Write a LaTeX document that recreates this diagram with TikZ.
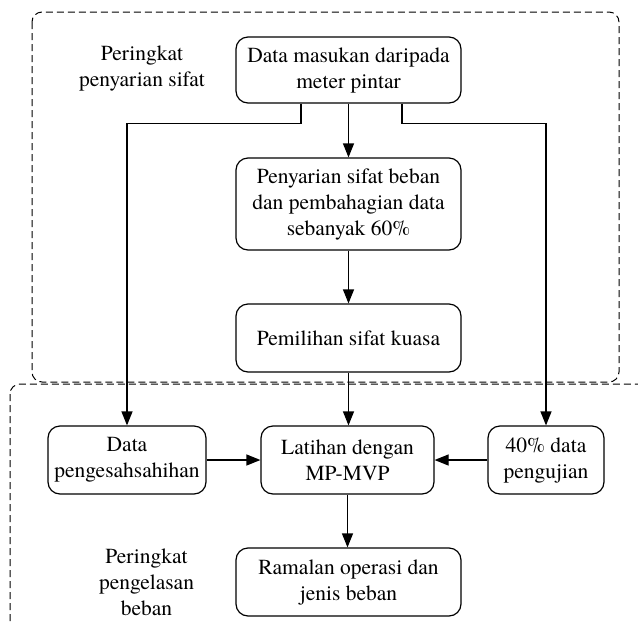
\documentclass[tikz,border=0pt]{standalone}
\usepackage{fontspec}
\setmainfont{texgyretermes}[Extension=.otf,UprightFont=*-regular,BoldFont=*-bold,ItalicFont=*-italic]
\usetikzlibrary{arrows.meta,calc}
\begin{document}
\begin{tikzpicture}[x=1pt,y=-1pt,
  box/.style={draw,line width=1.2pt,rounded corners=12pt,align=center,inner sep=2pt,
    font=\fontsize{21.5}{26}\selectfont},
  lbl/.style={align=center,font=\fontsize{21.5}{26}\selectfont},
  region/.style={draw,line width=1pt,dash pattern=on 7pt off 4pt,rounded corners=10pt},
  conn/.style={line width=1.2pt,-{Triangle[length=14pt,width=11pt]}}]
\useasboundingbox (0,0) rectangle (638,622);
\clip (0,0) rectangle (638,622);
\draw[region] (32,12) rectangle (619,382);
\draw[region] (10,384) rectangle (660,650);
\node[box,minimum width=225pt,minimum height=66pt] (top) at (348.5,70) {Data masukan daripada\\meter pintar};
\node[box,minimum width=225pt,minimum height=92pt] (pen) at (348.5,204) {Penyarian sifat beban\\dan pembahagian data\\sebanyak 60\%};
\node[box,minimum width=225pt,minimum height=68pt] (pem) at (348.5,338) {Pemilihan sifat kuasa};
\node[box,minimum width=158pt,minimum height=68pt] (val) at (127,460) {Data\\pengesahsahihan};
\node[box,minimum width=173pt,minimum height=68pt] (lat) at (347.5,460) {Latihan dengan\\MP-MVP};
\node[box,minimum width=116pt,minimum height=68pt] (test) at (546,460) {40\% data\\pengujian};
\node[box,minimum width=225pt,minimum height=68pt] (ram) at (348.5,582) {Ramalan operasi dan\\jenis beban};
\node[lbl] (l1) at (142,68.5) {Peringkat\\penyarian sifat};
\node[lbl] (l2) at (146.5,582) {Peringkat\\pengelasan\\beban};
\coordinate (ja) at ($(top.south)+(-47.5,0)$);
\coordinate (jb) at ($(top.south)+(53.5,0)$);
\coordinate (ka) at ($(ja)+(0,20)$);
\coordinate (kb) at ($(jb)+(0,20)$);
\draw[conn] (top.south) -- (pen.north);
\draw[conn] (pen.south) -- (pem.north);
\draw[conn] (pem.south) -- (pem.south |- lat.north);
\draw[conn] (ja) -- (ka) -| (val.north);
\draw[conn] (jb) -- (kb) -| (test.north);
\draw[conn] (val.east) -- (lat.west);
\draw[conn] (test.west) -- (lat.east);
\draw[conn] (lat.south) -- (lat.south |- ram.north);
\end{tikzpicture}
\end{document}
